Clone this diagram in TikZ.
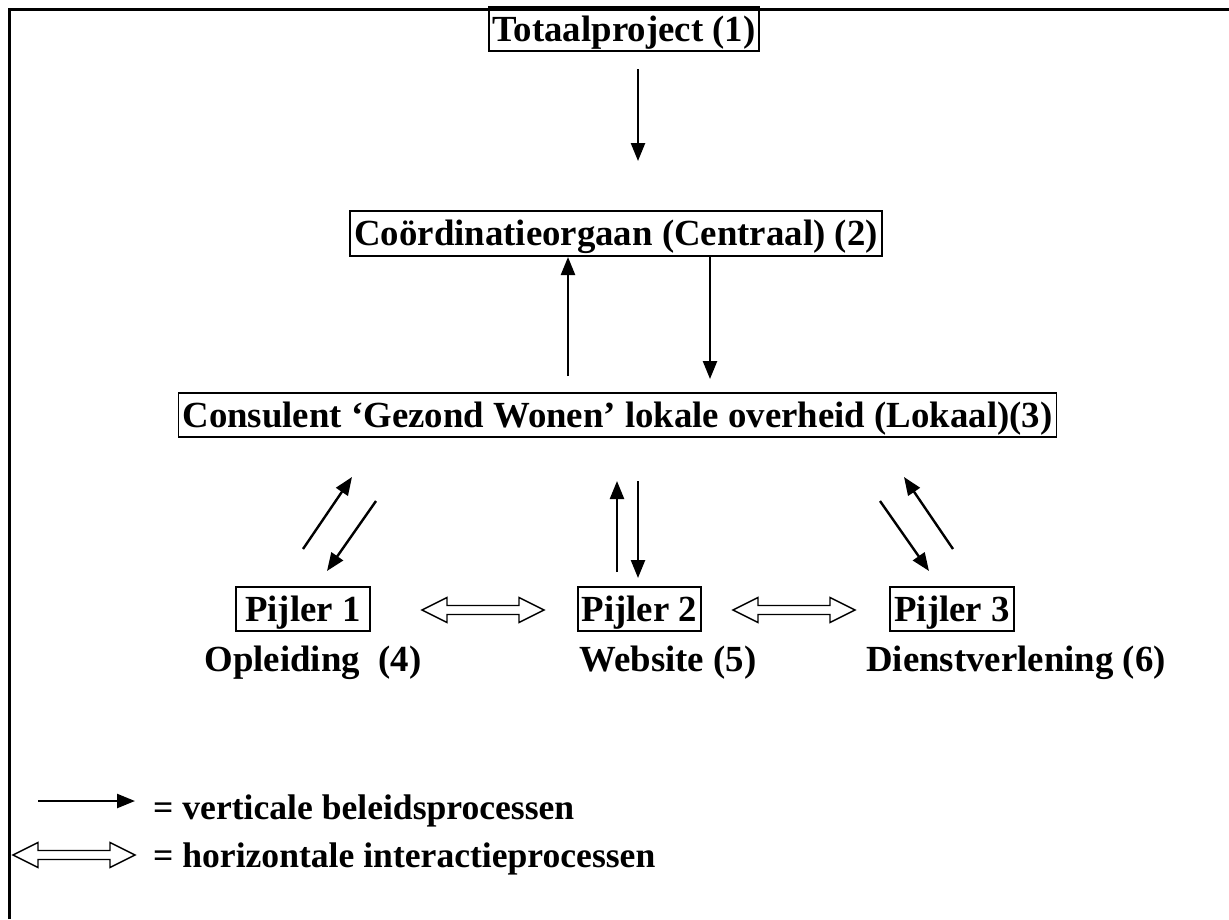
\documentclass[tikz,border=0pt]{standalone}
\usepackage{fontspec}
\setmainfont{Liberation Serif}
\usetikzlibrary{arrows.meta}
\tikzset{
  txt/.style={font=\fontsize{36.8}{44}\selectfont\bfseries, inner sep=0pt},
  legtxt/.style={font=\fontsize{35.6}{42}\selectfont\bfseries, inner sep=0pt},
  box/.style={txt, draw, line width=1.8pt, inner xsep=4pt, inner ysep=2pt, text height=32.5pt, text depth=8pt},
  pbox/.style={box, minimum width=134pt},
  varrow/.style={line width=2.4pt, -{Triangle[length=18pt,width=14pt]}},
  frame/.style={line width=3pt, line join=miter},
  dbl/.pic={\draw[line width=1.4pt, line join=miter] (-61,0) -- (-36,-12.5) -- (-36,-4.5) -- (36,-4.5) -- (36,-12.5) -- (61,0) -- (36,12.5) -- (36,4.5) -- (-36,4.5) -- (-36,12.5) -- cycle;}
}
\begin{document}
\begin{tikzpicture}[x=1pt,y=-1pt]
\useasboundingbox (0,0) rectangle (1229,919);
\fill[white] (0,0) rectangle (1229,919);
% frame
\draw[frame] (9,919) -- (9,9) -- (1229,9);
% boxes
\node[box] (tot) at (624,29) {Totaalproject (1)};
\node[box] (coo) at (616,233.5) {Coördinatieorgaan (Centraal) (2)};
\node[box] (con) at (617.5,415) {Consulent ‘Gezond Wonen’ lokale overheid (Lokaal)(3)};
\node[pbox] (p1) at (303,609) {Pijler 1};
\node[pbox, minimum width=115pt] (p2) at (639.5,609) {Pijler 2};
\node[pbox, minimum width=118pt] (p3) at (952,609) {Pijler 3};
% labels
\node[txt, anchor=base] (l1) at (313,671) {Opleiding\ \ (4)};
\node[txt, anchor=base] (l2) at (668,671) {Website (5)};
\node[txt, anchor=base] (l3) at (1016,671) {Dienstverlening (6)};
% vertical arrows
\coordinate (a1s) at (638,69);   \coordinate (a1e) at (638,161);
\coordinate (a2s) at (568,376);  \coordinate (a2e) at (568,257);
\coordinate (a3s) at (710,257);  \coordinate (a3e) at (710,379);
\coordinate (b1s) at (303,549);  \coordinate (b1e) at (352,477);
\coordinate (b2s) at (376,501);  \coordinate (b2e) at (327,571);
\coordinate (c1s) at (617,572);  \coordinate (c1e) at (617,481);
\coordinate (c2s) at (638,481);  \coordinate (c2e) at (638,578);
\coordinate (d1s) at (880,501);  \coordinate (d1e) at (929,571);
\coordinate (d2s) at (953,549);  \coordinate (d2e) at (904,477);
\foreach \a in {a1,a2,a3,b1,b2,c1,c2,d1,d2}{\draw[varrow] (\a s) -- (\a e);}
% horizontal interaction arrows
\pic at (483,610) {dbl};
\pic at (794,610) {dbl};
% legend
\coordinate (ls) at (38,801); \coordinate (le) at (135,801);
\draw[varrow] (ls) -- (le);
\node[legtxt, anchor=base west] (lt1) at (153,819) {= verticale beleidsprocessen};
\pic at (74,855) {dbl};
\node[legtxt, anchor=base west] (lt2) at (153,867) {= horizontale interactieprocessen};
\end{tikzpicture}
\end{document}
